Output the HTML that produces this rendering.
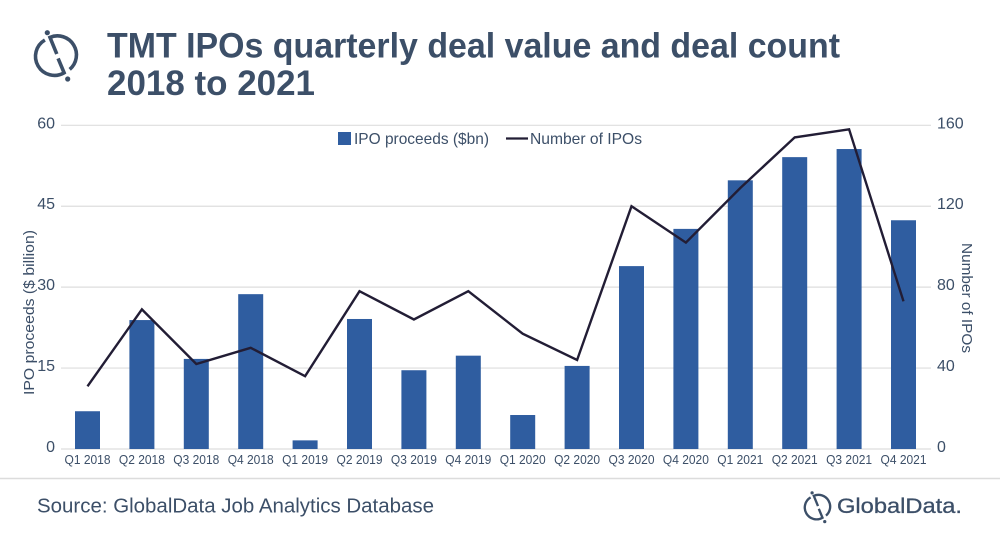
<!DOCTYPE html>
<html lang="en">
<head>
<meta charset="utf-8">
<title>TMT IPOs quarterly deal value and deal count 2018 to 2021</title>
<style>
html,body{margin:0;padding:0;background:#fff;width:1000px;height:535px;overflow:hidden}
svg{display:block}
text{font-family:"Liberation Sans",sans-serif;fill:#3c4f68}
</style>
</head>
<body>
<svg id="chart" width="1000" height="535" viewBox="0 0 1000 535" xmlns="http://www.w3.org/2000/svg">
  <rect width="1000" height="535" fill="#fff"/>
  <g id="big-logo" transform="translate(57.3 55)" fill="none" stroke="#3c4f68" stroke-width="3.6">
    <path d="M-0.5 -1 L-7.3 -17.6 A19 19 0 0 1 12.4 14.4"/>
    <path d="M0.8 3.4 L6.8 17.8 A19 19 0 0 1 -12.4 -15"/>
    <circle cx="-10" cy="-22.3" r="2.6" fill="#3c4f68" stroke="none"/>
    <circle cx="10.4" cy="24" r="2.6" fill="#3c4f68" stroke="none"/>
  </g>
  <text x="107" y="57.5" font-size="35" font-weight="700" textLength="733" lengthAdjust="spacingAndGlyphs">TMT IPOs quarterly deal value and deal count</text>
  <text x="107" y="95" font-size="35" font-weight="700" textLength="208" lengthAdjust="spacingAndGlyphs">2018 to 2021</text>
  <g id="grid"></g>
  <g id="bars"></g>
  <polyline id="count-line" fill="none" stroke="#221d35" stroke-width="2.4" stroke-linejoin="miter"/>
  <g id="axes"></g>
  <text transform="translate(34 395) rotate(-90)" font-size="15" textLength="165" lengthAdjust="spacingAndGlyphs">IPO proceeds ($ billion)</text>
  <text transform="translate(962 243) rotate(90)" font-size="15" textLength="110" lengthAdjust="spacingAndGlyphs">Number of IPOs</text>
  <g>
    <rect x="338" y="132" width="13" height="13" fill="#2f5da0"/>
    <text x="354" y="144" font-size="16" textLength="135" lengthAdjust="spacingAndGlyphs">IPO proceeds ($bn)</text>
    <line x1="506" x2="528" y1="138.5" y2="138.5" stroke="#221d35" stroke-width="2.2"/>
    <text x="530" y="144" font-size="16" textLength="112" lengthAdjust="spacingAndGlyphs">Number of IPOs</text>
  </g>
  <line x1="0" x2="1000" y1="478.5" y2="478.5" stroke="#dcdcdc" stroke-width="1.4"/>
  <text x="37" y="512.5" font-size="20" textLength="397" lengthAdjust="spacingAndGlyphs">Source: GlobalData Job Analytics Database</text>
  <g transform="translate(818.3 506.7) scale(.62)" fill="none" stroke="#3c4f68" stroke-width="3.8">
    <path d="M-0.5 -1 L-7.3 -17.6 A19 19 0 0 1 12.4 14.4"/>
    <path d="M0.8 3.4 L6.8 17.8 A19 19 0 0 1 -12.4 -15"/>
    <circle cx="-10" cy="-22.3" r="2.6" fill="#3c4f68" stroke="none"/>
    <circle cx="10.4" cy="24" r="2.6" fill="#3c4f68" stroke="none"/>
  </g>
  <text x="837" y="513" font-size="21" stroke="#3c4f68" stroke-width=".3" textLength="125" lengthAdjust="spacingAndGlyphs">GlobalData.</text>
</svg>
<script>
const categories = ["Q1 2018","Q2 2018","Q3 2018","Q4 2018","Q1 2019","Q2 2019","Q3 2019","Q4 2019","Q1 2020","Q2 2020","Q3 2020","Q4 2020","Q1 2021","Q2 2021","Q3 2021","Q4 2021"];
const proceeds = [7.0,23.9,16.7,28.7,1.6,24.1,14.6,17.3,6.3,15.4,33.9,40.8,49.8,54.1,55.6,42.4];
const ipoCounts = [31,69,42,50,36,78,64,78,57,44,120,102,129,154,158,73];
const leftTicks = [0,15,30,45,60];
const rightTicks = [0,40,80,120,160];

const NS = 'http://www.w3.org/2000/svg';
const plotLeft = 60.3, plotRight = 930.7, plotBottom = 449, plotTop = 125.3;
const step = (plotRight - plotLeft) / categories.length;
const xCenter = i => plotLeft + step * (i + 0.5);
const yLeft = v => plotBottom - v / 60 * (plotBottom - plotTop);
const yRight = v => plotBottom - v / 160 * (plotBottom - plotTop);

function make(tag, attrs, parent, content) {
  const el = document.createElementNS(NS, tag);
  Object.keys(attrs).forEach(k => el.setAttribute(k, attrs[k]));
  if (content !== undefined) el.textContent = content;
  parent.appendChild(el);
  return el;
}

const grid = document.getElementById('grid');
const axes = document.getElementById('axes');
const bars = document.getElementById('bars');

leftTicks.forEach((t) => {
  const line = make('line', {x1: 61, x2: 931, y1: yLeft(t), y2: yLeft(t), stroke: '#dedede', 'stroke-width': 1.2}, grid);
  
  
  const label = make('text', {x: 55, y: yLeft(t) + 3, 'text-anchor': 'end', 'font-size': 16}, axes, String(t));
  
  
});

rightTicks.forEach((t) => {
  const label = make('text', {x: 937, y: yRight(t) + 3, 'font-size': 16}, axes, String(t));
  
  
});

categories.forEach((c, i) => {
  const bar = make('rect', {x: xCenter(i) - 12.5, y: yLeft(proceeds[i]), width: 25, height: plotBottom - yLeft(proceeds[i]), fill: '#2f5da0'}, bars);
  
  
  const label = make('text', {x: xCenter(i), y: 464, 'text-anchor': 'middle', 'font-size': 13, textLength: 46, lengthAdjust: 'spacingAndGlyphs'}, axes, c);
  
  
});

document.getElementById('count-line').setAttribute('points',
  ipoCounts.map((v, i) => xCenter(i).toFixed(1) + ',' + yRight(v).toFixed(1)).join(' '));
</script>
</body>
</html>
